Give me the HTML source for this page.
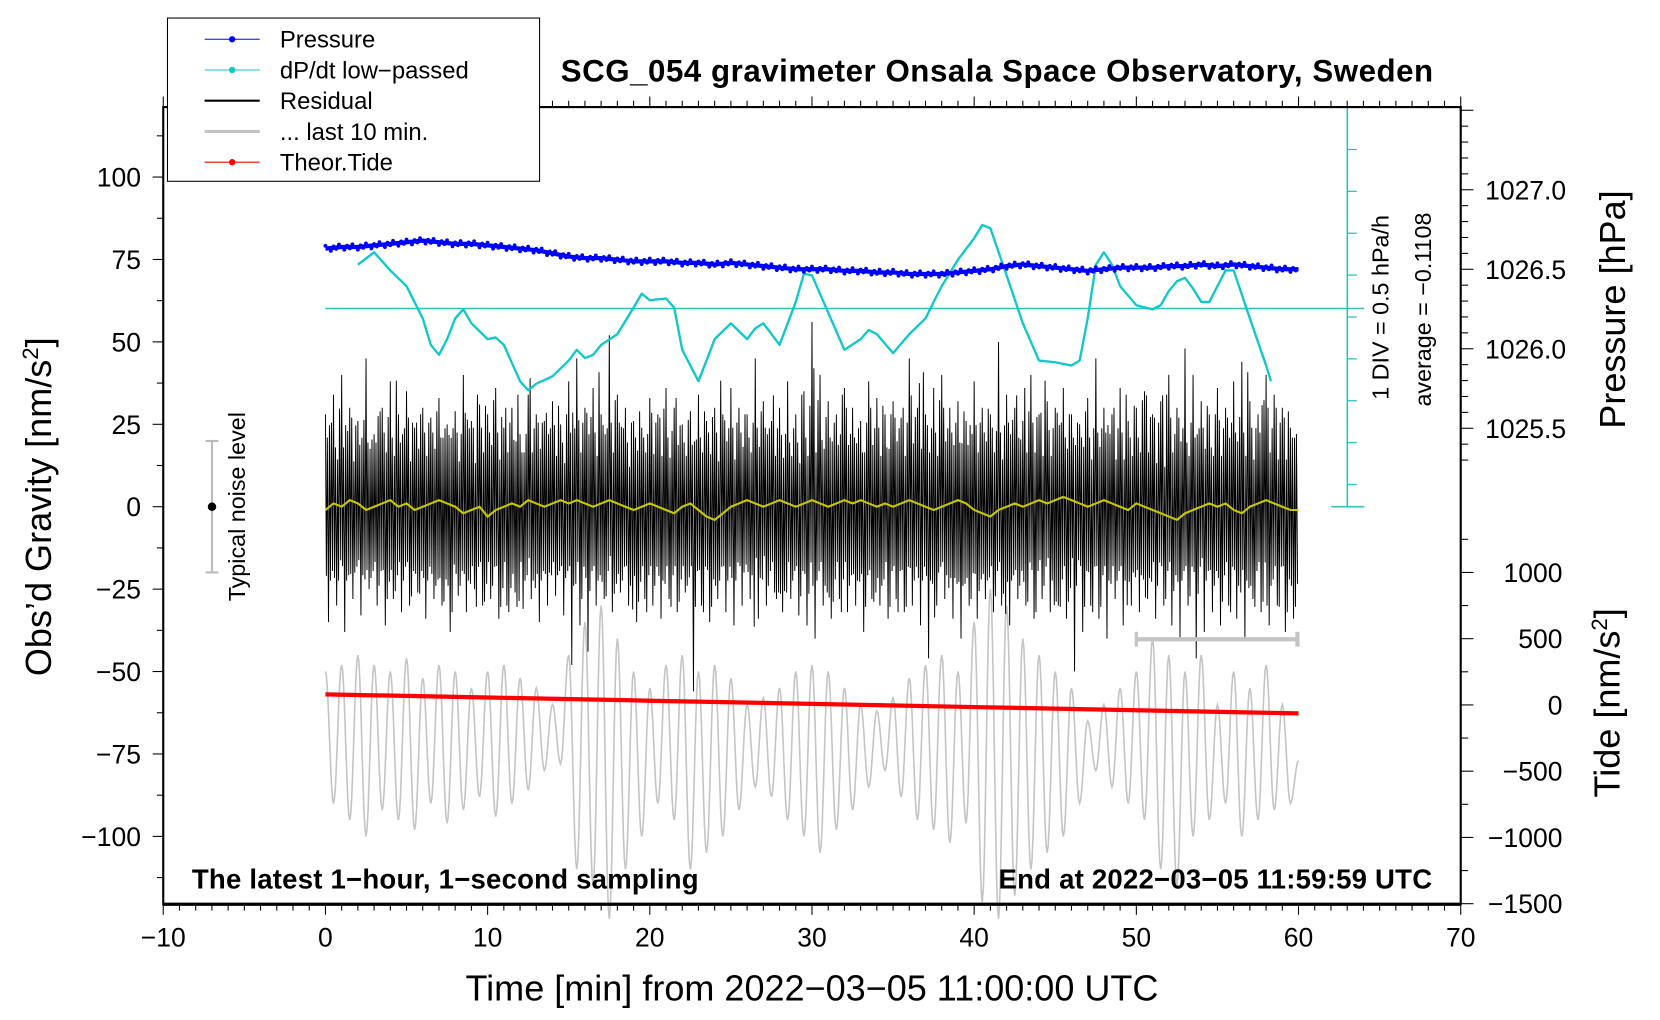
<!DOCTYPE html>
<html><head><meta charset="utf-8"><style>
html,body{margin:0;padding:0;background:#fff;}
svg{display:block;font-family:"Liberation Sans",sans-serif;}
</style></head><body>
<svg id="c" width="1660" height="1020" viewBox="0 0 1566 962.2"></svg>
<script>
// ---- data ----
const xTicks=[-10,0,10,20,30,40,50,60,70];
const gTicks=[100,75,50,25,0,-25,-50,-75,-100];
const pTicks=[1027.0,1026.5,1026.0,1025.5];
const pTickLabels=["1027.0","1026.5","1026.0","1025.5"];
const tTicks=[1000,500,0,-500,-1000,-1500];
const resMax=[28,34,40,30,26,45,22,30,38,28,35,24,30,27,33,25,29,40,26,31,28,36,24,30,22,34,28,26,32,25,38,45,30,36,28,52,34,30,26,24,33,28,36,30,25,29,34,26,30,28,36,30,28,45,32,26,30,38,28,35,56,40,32,28,36,30,26,38,33,28,32,27,45,30,28,36,40,30,32,26,38,30,28,50,34,30,26,40,28,32,30,36,28,25,33,45,30,28,36,26,30,35,28,32,40,30,48,40,32,28,36,30,38,44,32,28,40,34,30,24];
const resMin=[-35,-30,-38,-28,-33,-25,-30,-36,-28,-32,-30,-26,-34,-28,-30,-38,-27,-32,-25,-30,-28,-34,-30,-26,-31,-28,-35,-30,-27,-33,-48,-36,-44,-30,-28,-32,-26,-30,-35,-28,-30,-34,-28,-32,-26,-56,-30,-35,-28,-32,-36,-30,-28,-34,-30,-26,-32,-28,-33,-36,-40,-30,-34,-28,-32,-30,-38,-28,-30,-34,-28,-32,-30,-36,-46,-30,-28,-34,-40,-30,-34,-28,-32,-30,-36,-28,-30,-34,-28,-32,-30,-34,-50,-38,-30,-34,-40,-28,-36,-30,-32,-28,-34,-30,-36,-40,-30,-46,-38,-32,-36,-30,-34,-40,-28,-32,-36,-30,-38,-34];
const grey=[-50,-90,-48,-95,-45,-100,-48,-92,-50,-95,-46,-98,-52,-90,-48,-96,-50,-92,-55,-88,-50,-94,-48,-90,-52,-86,-55,-80,-60,-78,-45,-110,-35,-115,-30,-125,-40,-110,-50,-100,-55,-90,-48,-95,-45,-110,-50,-105,-48,-100,-52,-92,-60,-85,-58,-88,-55,-95,-50,-100,-48,-105,-50,-98,-55,-92,-60,-85,-62,-80,-58,-88,-52,-95,-48,-98,-45,-102,-50,-96,-35,-120,-25,-125,-30,-118,-40,-110,-45,-105,-50,-100,-55,-90,-65,-80,-60,-85,-55,-90,-50,-95,-40,-110,-45,-115,-50,-100,-45,-95,-60,-90,-50,-100,-55,-95,-48,-92,-60,-90,-77];
const yellow=[-1,1,0,2,1,-1,0,1,2,0,1,-1,0,1,2,1,0,-2,-1,0,-3,-1,0,1,0,2,1,0,1,2,1,2,1,0,1,2,1,0,-1,0,1,0,-1,-2,0,1,-1,-3,-4,-2,0,1,2,1,0,1,2,1,0,1,2,1,0,1,2,1,2,1,0,1,0,1,2,1,0,-1,0,1,2,1,-1,-2,-3,-1,0,1,0,1,2,1,2,3,2,1,0,1,2,1,0,-1,1,0,-1,-2,-3,-4,-2,-1,0,1,0,1,-1,-2,0,1,2,1,0,-1,-1];
const pressure=[1026.63,1026.64,1026.64,1026.65,1026.66,1026.67,1026.68,1026.67,1026.66,1026.66,1026.65,1026.64,1026.63,1026.62,1026.60,1026.58,1026.57,1026.57,1026.56,1026.55,1026.55,1026.55,1026.54,1026.54,1026.53,1026.54,1026.53,1026.52,1026.51,1026.50,1026.50,1026.50,1026.49,1026.49,1026.48,1026.48,1026.47,1026.47,1026.47,1026.48,1026.49,1026.50,1026.52,1026.53,1026.52,1026.51,1026.50,1026.49,1026.50,1026.51,1026.51,1026.51,1026.52,1026.52,1026.53,1026.52,1026.53,1026.52,1026.51,1026.50,1026.50];
const dpTimes=[2,3,4,5,6,6.5,7,7.5,8,8.5,9,10,10.5,11,12,12.5,13,14,15,15.5,16,16.5,17,18,19,19.5,20,21,21.5,22,23,23.5,24,25,26,26.5,27,28,29,29.5,30,31,32,33,33.5,34,35,36,37,37.5,38,39,40,40.5,41,42,43,44,45,46,46.5,47,47.5,48,48.5,49,50,51,51.5,52,52.5,53,53.5,54,54.5,55,55.5,56,57,58,58.3];
const dpVals=[0.53,0.68,0.46,0.27,-0.12,-0.44,-0.56,-0.37,-0.12,-0.01,-0.18,-0.37,-0.35,-0.44,-0.88,-0.99,-0.91,-0.82,-0.63,-0.50,-0.60,-0.56,-0.44,-0.31,0.01,0.18,0.10,0.12,0.01,-0.50,-0.88,-0.63,-0.37,-0.18,-0.37,-0.24,-0.18,-0.44,0.08,0.42,0.40,-0.05,-0.50,-0.37,-0.26,-0.31,-0.54,-0.31,-0.12,0.08,0.27,0.59,0.85,1.01,0.97,0.40,-0.18,-0.63,-0.65,-0.69,-0.63,-0.12,0.53,0.68,0.53,0.27,0.04,-0.01,0.04,0.21,0.33,0.37,0.24,0.08,0.08,0.27,0.46,0.46,-0.12,-0.69,-0.88];
const tideTimes=[0,10,20,30,40,50,60];
const tideVals=[80,56,32,8,-16,-40,-64];
// ---- scales ----
const L=154,R=1378,T=101,B=853;
const X=t=>L+(t+10)*(R-L)/80;
const G=v=>478-v*3.11;
const P=v=>254-(v-1026.5)*150;
const TD=v=>665-v*0.125;
const DP=v=>291-v*78;
const svg=document.getElementById('c');
const NS='http://www.w3.org/2000/svg';
function el(tag,attrs,parent){const e=document.createElementNS(NS,tag);for(const k in attrs)e.setAttribute(k,attrs[k]);(parent||svg).appendChild(e);return e;}
function txt(s,attrs,parent){const e=el('text',attrs,parent);e.textContent=s;return e;}

let gp=[];
for(let i=0;i<grey.length-1;i++){for(let k=0;k<8;k++){const f=(1-Math.cos(Math.PI*k/8))/2;gp.push(X(i*0.5+k*0.0625).toFixed(1)+','+G(grey[i]+(grey[i+1]-grey[i])*f).toFixed(1));}}
gp.push(X(60).toFixed(1)+','+G(grey[grey.length-1]).toFixed(1));
let e=el('polyline',{points:gp.join(' '),fill:'none',stroke:'#c4c4c4','stroke-width':1.5});



const n=resMax.length;
let rp=[];
for(let i=0;i<n;i++){
  const t=i*0.5;
  rp.push(X(t).toFixed(1)+','+G(resMax[i]).toFixed(1));
  rp.push(X(t+0.06).toFixed(1)+','+G(resMin[(i*7)%n]*0.6).toFixed(1));
  rp.push(X(t+0.12).toFixed(1)+','+G(resMax[(i*11)%n]*0.75).toFixed(1));
  rp.push(X(t+0.19).toFixed(1)+','+G(resMin[i]).toFixed(1));
  rp.push(X(t+0.25).toFixed(1)+','+G(resMax[(i*13+5)%n]*0.55).toFixed(1));
  rp.push(X(t+0.31).toFixed(1)+','+G(resMin[(i*5+3)%n]*0.8).toFixed(1));
  rp.push(X(t+0.37).toFixed(1)+','+G(resMax[(i*3+7)%n]*0.85).toFixed(1));
  rp.push(X(t+0.44).toFixed(1)+','+G(resMin[(i*17+1)%n]*0.65).toFixed(1));
}
e=el('polyline',{points:rp.join(' '),fill:'none',stroke:'#000','stroke-width':0.9});



e=el('polyline',{points:yellow.map((v,i)=>X(i*0.5).toFixed(1)+','+G(v).toFixed(1)).join(' '),fill:'none',stroke:'#c8c800','stroke-width':2});



e=el('polyline',{points:tideVals.map((v,i)=>X(tideTimes[i]).toFixed(1)+','+TD(v).toFixed(1)).join(' '),fill:'none',stroke:'#f00','stroke-width':4});



e=el('line',{x1:307,x2:1287,y1:291,y2:291,stroke:'#30c0c0','stroke-width':1.5});


e=el('line',{x1:1271,x2:1271,y1:101,y2:478,stroke:'#30c0c0','stroke-width':1.5});


el('line',{x1:1256,x2:1287,y1:101,y2:101,stroke:'#30c0c0','stroke-width':1.5});
el('line',{x1:1256,x2:1287,y1:478,y2:478,stroke:'#30c0c0','stroke-width':1.5});
for(let y=141;y<478;y+=39.5){el('line',{x1:1271,x2:1280,y1:y,y2:y,stroke:'#30c0c0','stroke-width':1.2});}
e=el('polyline',{points:dpVals.map((v,i)=>X(dpTimes[i]).toFixed(1)+','+DP(v).toFixed(1)).join(' '),fill:'none',stroke:'#10c8c8','stroke-width':2.2,'stroke-linejoin':'round'});



e=el('polyline',{points:pressure.map((v,i)=>X(i).toFixed(1)+','+P(v).toFixed(1)).join(' '),fill:'none',stroke:'#0000ff','stroke-width':4,'stroke-linejoin':'round'});


for(let j=0;j<(pressure.length-1)*6;j++){const i=j/6;const a=Math.floor(i),f=i-a;const v=pressure[a]+(pressure[a+1]-pressure[a])*f;el('circle',{cx:X(i),cy:P(v)+((j*7)%5-2)*1.3,r:1.8,fill:'#0000ff'});}

e=el('rect',{x:L,y:T,width:R-L,height:B-T,fill:'none',stroke:'#000','stroke-width':2});


el('line',{x1:L,x2:R,y1:B,y2:B,stroke:'#000','stroke-width':3});
for(let t=-10;t<=70;t++){const maj=t%10===0;el('line',{x1:X(t),x2:X(t),y1:B,y2:B+(maj?10:6),stroke:'#000','stroke-width':1});el('line',{x1:X(t),x2:X(t),y1:T,y2:T-(maj?10:6),stroke:'#000','stroke-width':1});}
xTicks.forEach(t=>{const e=txt(String(t).replace('-','\u2212'),{x:X(t),y:893,'text-anchor':'middle','font-size':25});

});
for(let v=-112.5;v<=112.5;v+=12.5){const maj=v%25===0;el('line',{x1:L,x2:L-(maj?10:6),y1:G(v),y2:G(v),stroke:'#000'});}
gTicks.forEach(v=>{const e=txt(String(v).replace('-','\u2212'),{x:133,y:G(v)+9,'text-anchor':'end','font-size':25});

});
for(let v=1027.5;v>=1025.3;v-=0.1){if(P(v)<T-2||P(v)>480)continue;const maj=Math.abs(v*2-Math.round(v*2))<0.01;el('line',{x1:R,x2:R+(maj?12:7),y1:P(v),y2:P(v),stroke:'#000'});}
pTicks.forEach((v,i)=>{const e=txt(pTickLabels[i],{x:1401,y:P(v)+9,'font-size':25});

});
for(let v=1250;v>=-1500;v-=250){const y=TD(v);if(y<480)continue;const maj=v%500===0;el('line',{x1:R,x2:R+(maj?12:7),y1:y,y2:y,stroke:'#000'});}
tTicks.forEach(v=>{const e=txt(String(v).replace('-','\u2212'),{x:1474,y:TD(v)+9,'text-anchor':'end','font-size':25});

});
</script>
<script>
const s=document.getElementById('c');
s.insertAdjacentHTML('beforeend',`
<text x="529" y="77" font-size="29.5" font-weight="bold" textLength="823">SCG_054 gravimeter Onsala Space Observatory, Sweden</text>
<text x="766" y="944" text-anchor="middle" font-size="34">Time [min] from 2022−03−05 11:00:00 UTC</text>
<text transform="translate(48,478) rotate(-90)" text-anchor="middle" font-size="34">Obs’d Gravity [nm/s<tspan font-size="21" dy="-12">2</tspan><tspan dy="12">]</tspan></text>
<text transform="translate(1533,292) rotate(-90)" text-anchor="middle" font-size="34">Pressure [hPa]</text>
<text transform="translate(1528,663) rotate(-90)" text-anchor="middle" font-size="34">Tide [nm/s<tspan font-size="21" dy="-12">2</tspan><tspan dy="12">]</tspan></text>
<text transform="translate(1310,290) rotate(-90)" text-anchor="middle" font-size="22">1 DIV = 0.5 hPa/h</text>
<text transform="translate(1350,292) rotate(-90)" text-anchor="middle" font-size="22">average = −0.1108</text>
<text x="181" y="838" font-size="26" font-weight="bold" textLength="478">The latest 1−hour, 1−second sampling</text>
<text x="942" y="838" font-size="26" font-weight="bold" textLength="409">End at 2022−03−05 11:59:59 UTC</text>
<g>
<line x1="200" x2="200" y1="416" y2="540" stroke="#bbb" stroke-width="2"/>
<line x1="194" x2="206" y1="416" y2="416" stroke="#bbb" stroke-width="2"/>
<line x1="194" x2="206" y1="540" y2="540" stroke="#bbb" stroke-width="2"/>
<circle cx="200" cy="478" r="4" fill="#000"/>
<text transform="translate(231,478) rotate(-90)" text-anchor="middle" font-size="22">Typical noise level</text>
</g>
<g>
<line x1="1072" x2="1224" y1="603" y2="603" stroke="#c4c4c4" stroke-width="4"/>
<line x1="1072" x2="1072" y1="596" y2="610" stroke="#c4c4c4" stroke-width="3"/>
<line x1="1224" x2="1224" y1="596" y2="610" stroke="#c4c4c4" stroke-width="4"/>
</g>
<g>
<rect x="158" y="17" width="351" height="154" fill="#fff" stroke="#000" stroke-width="1"/>
<g><line x1="193" x2="245" y1="37" y2="37" stroke="#00f"/><circle cx="219" cy="37" r="3" fill="#00f"/><text x="264" y="45" font-size="22.5">Pressure</text></g>
<g><line x1="193" x2="245" y1="66" y2="66" stroke="#10c8c8"/><circle cx="219" cy="66" r="3" fill="#10c8c8"/><text x="264" y="74" font-size="22.5">dP/dt low−passed</text></g>
<g><line x1="193" x2="245" y1="95" y2="95" stroke="#000" stroke-width="2"/><text x="264" y="103" font-size="22.5">Residual</text></g>
<g><line x1="193" x2="245" y1="124" y2="124" stroke="#c4c4c4" stroke-width="3"/><text x="264" y="132" font-size="22.5">... last 10 min.</text></g>
<g><line x1="193" x2="245" y1="153" y2="153" stroke="#f00"/><circle cx="219" cy="153" r="3" fill="#f00"/><text x="264" y="161" font-size="22.5">Theor.Tide</text></g>
</g>`);
</script>
</body></html>
